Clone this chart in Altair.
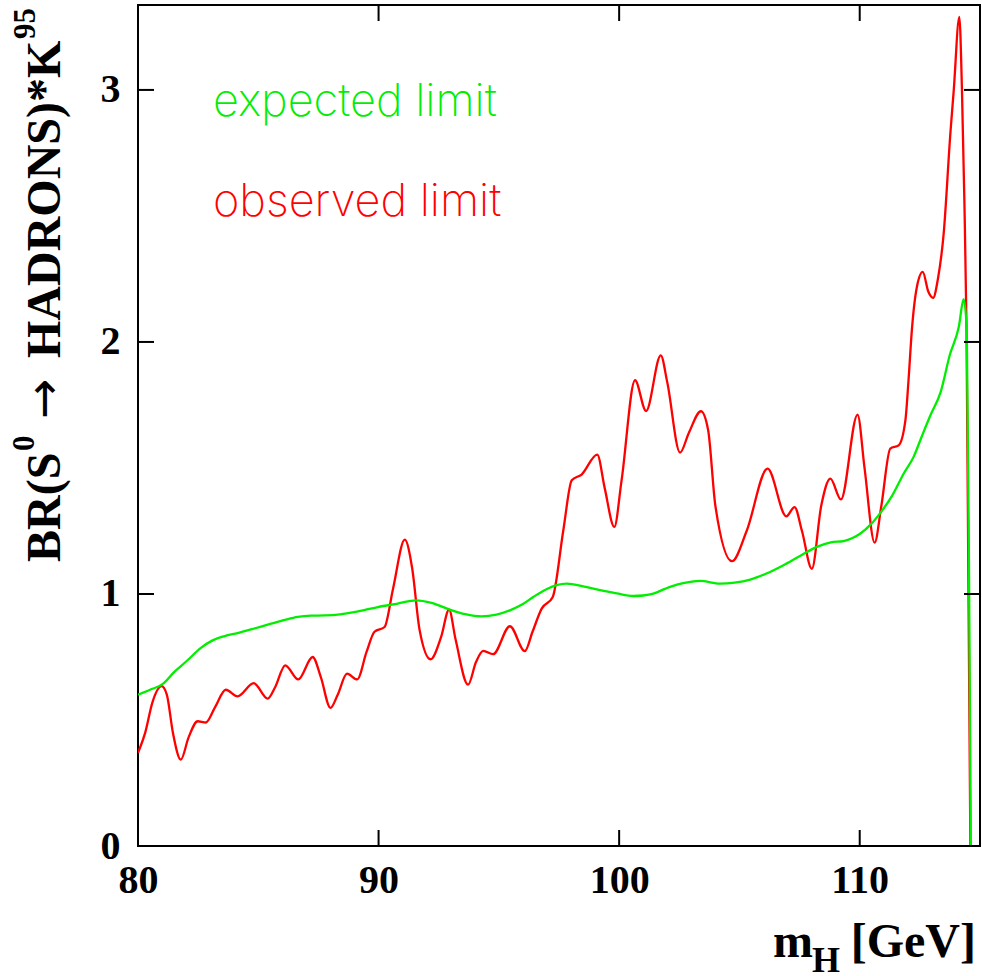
import altair as alt
import pandas as pd

# ---- data ----
obs_mass = [80.0, 80.3, 80.6, 80.98, 81.2, 81.45, 81.78, 82.1, 82.48, 82.82, 83.2, 83.65,
            84.14, 84.81, 85.39, 85.7, 86.12, 86.66, 87.26, 87.6, 88.0, 88.3, 88.69, 89.11,
            89.5, 89.83, 90.25, 90.6, 91.09, 91.4, 91.7, 92.16, 92.6, 92.93, 93.2, 93.72,
            94.05, 94.35, 94.76, 95.46, 96.08, 96.4, 96.78, 97.24, 97.68, 98.03, 98.44,
            99.09, 99.4, 99.8, 100.1, 100.66, 101.12, 101.73, 102.0, 102.53, 102.9, 103.4,
            103.7, 104.0, 104.69, 105.3, 106.17, 106.95, 107.29, 107.6, 108.01, 108.4,
            108.78, 109.22, 109.91, 110.2, 110.62, 110.9, 111.27, 111.62, 111.9, 112.03,
            112.17, 112.38, 112.62, 112.85, 113.05, 113.25, 113.49, 113.77, 113.91, 114.14,
            114.25, 114.35, 114.44, 114.6]
obs_limit = [0.37, 0.45, 0.57, 0.634, 0.6, 0.45, 0.343, 0.43, 0.495, 0.49, 0.55, 0.62,
             0.594, 0.646, 0.585, 0.63, 0.717, 0.661, 0.75, 0.67, 0.548, 0.6, 0.684, 0.661,
             0.77, 0.85, 0.869, 1.02, 1.216, 1.1, 0.86, 0.741, 0.83, 0.938, 0.82, 0.64,
             0.73, 0.774, 0.761, 0.872, 0.773, 0.85, 0.942, 0.988, 1.253, 1.451, 1.474,
             1.553, 1.42, 1.266, 1.45, 1.848, 1.726, 1.947, 1.84, 1.561, 1.64, 1.725,
             1.65, 1.35, 1.13, 1.25, 1.497, 1.308, 1.345, 1.25, 1.10, 1.35,
             1.458, 1.375, 1.712, 1.5, 1.204, 1.35, 1.577, 1.59, 1.69, 1.85,
             2.05, 2.22, 2.278, 2.2, 2.175, 2.25, 2.43, 2.83, 3.0, 3.29,
             3.0, 2.56, 2.05, 0.0]

exp_mass = [80.0, 80.5, 81.02, 81.5, 82.06, 82.6, 83.1, 83.6, 84.14, 84.8, 85.53, 86.1,
            86.64, 87.2, 87.75, 88.3, 88.86, 89.4, 89.97, 90.8, 91.56, 92.2, 92.96, 93.6,
            94.28, 94.9, 95.46, 96.0, 96.43, 97.0, 97.4, 97.82, 98.5, 99.2, 99.9, 100.59,
            101.0, 101.42, 101.9, 102.4, 102.95, 103.37, 104.2, 104.8, 105.45, 106.1,
            106.83, 107.5, 108.22, 108.8, 109.33, 109.7, 110.03, 110.45, 110.86, 111.35,
            111.83, 112.24, 112.6, 112.94, 113.36, 113.75, 114.12, 114.32, 114.45, 114.55,
            114.62]
exp_limit = [0.6, 0.62, 0.642, 0.69, 0.737, 0.785, 0.816, 0.833, 0.845, 0.862, 0.882, 0.897,
             0.909, 0.914, 0.915, 0.918, 0.926, 0.936, 0.948, 0.962, 0.975, 0.965, 0.938, 0.92,
             0.911, 0.918, 0.935, 0.96, 0.988, 1.02, 1.035, 1.041, 1.03, 1.015, 1.002, 0.992,
             0.994, 1.001, 1.02, 1.037, 1.048, 1.052, 1.041, 1.045, 1.057, 1.08,
             1.114, 1.15, 1.187, 1.205, 1.21, 1.222, 1.24, 1.275, 1.322, 1.39,
             1.478, 1.544, 1.63, 1.709, 1.8, 1.95, 2.06, 2.17, 2.05, 1.0,
             0.0]

x_ticks = [80, 90, 100, 110]
y_ticks = [0, 1, 2, 3]
series_names = ["observed limit", "expected limit"]
series_colors = ["#ff0000", "#00ee00"]
legend_labels = ["expected limit", "observed limit"]
legend_colors = ["#00ee00", "#ff0000"]

# ---- layout ----
W, H = 842, 841
X_DOM = [80, 115]
Y_DOM = [0, 3.337]
TICK = 16
SERIF = "Liberation Serif, DejaVu Serif"

df = pd.concat([
    pd.DataFrame({"m": obs_mass, "v": obs_limit, "s": series_names[0], "o": 0}),
    pd.DataFrame({"m": exp_mass, "v": exp_limit, "s": series_names[1], "o": 1}),
], ignore_index=True)

xs = alt.Scale(domain=X_DOM, nice=False, zero=False)
ys = alt.Scale(domain=Y_DOM, nice=False, zero=False)
x_axis = alt.Axis(values=x_ticks, title=None, labelFlush=False, labelPadding=46,
                  labelBaseline="alphabetic", labelOverlap=False)
y_axis = alt.Axis(values=y_ticks, title=None, labelFlush=False, labelPadding=18,
                  labelOverlap=False)

lines = alt.Chart(df).mark_line(strokeWidth=2.3, interpolate="monotone", clip=True).encode(
    x=alt.X("m:Q", scale=xs, axis=x_axis),
    y=alt.Y("v:Q", scale=ys, axis=y_axis),
    color=alt.Color("s:N", scale=alt.Scale(domain=series_names, range=series_colors), legend=None),
    detail="s:N",
    order="o:Q",
)

xt = pd.DataFrame({"t": x_ticks})
yt = pd.DataFrame({"t": y_ticks})

tick_bottom = alt.Chart(xt).mark_rule(color="black", strokeWidth=2).encode(
    x=alt.X("t:Q", scale=xs, axis=x_axis), y=alt.value(H), y2=alt.value(H - TICK))
tick_top = alt.Chart(xt).mark_rule(color="black", strokeWidth=2).encode(
    x=alt.X("t:Q", scale=xs, axis=x_axis), y=alt.value(0), y2=alt.value(TICK))
tick_left = alt.Chart(yt).mark_rule(color="black", strokeWidth=2).encode(
    y=alt.Y("t:Q", scale=ys, axis=y_axis), x=alt.value(0), x2=alt.value(TICK))
tick_right = alt.Chart(yt).mark_rule(color="black", strokeWidth=2).encode(
    y=alt.Y("t:Q", scale=ys, axis=y_axis), x=alt.value(W), x2=alt.value(W - TICK))

legend_df = pd.DataFrame({"label": legend_labels, "c": legend_colors, "yy": [111, 211]})
legend = alt.Chart(legend_df).mark_text(
    align="left", baseline="alphabetic", font="Inter, DejaVu Sans",
    fontWeight=200, fontSize=45
).encode(text="label:N", x=alt.value(75), y=alt.Y("yy:Q", scale=None),
         color=alt.Color("c:N", scale=None))

def label(txt, x, y, size, align="left", angle=0, font=SERIF, weight="bold"):
    return alt.Chart(pd.DataFrame({"t": [txt]})).mark_text(
        align=align, baseline="alphabetic", font=font, fontWeight=weight,
        fontSize=size, angle=angle, color="black"
    ).encode(text="t:N", x=alt.value(x), y=alt.value(y))

# y-axis title, built from pieces (rotated, reading bottom to top)
yt_a = label("BR(S", -78, 557, 48, angle=270)
yt_b = label("0", -104, 446, 31, angle=270)
yt_c = label("\u2192", -78, 414, 48, angle=270, font="DejaVu Sans", weight="normal")
yt_d = label("HADRONS)*K", -78, 353, 48, angle=270)
yt_e = label("95", -103, 34, 31, angle=270)

xt_m = label("m", 635, 952, 48)
xt_h = label("H", 674, 967, 36)
xt_gev = label("[GeV]", 838, 952, 48, align="right")

chart = alt.layer(
    lines, tick_bottom, tick_top, tick_left, tick_right, legend,
    yt_a, yt_b, yt_c, yt_d, yt_e, xt_m, xt_h, xt_gev
).properties(
    width=W, height=H,
    padding={"left": 138, "top": 5, "right": 2, "bottom": 130},
    autosize=alt.AutoSizeParams(type="none"),
).configure_view(
    stroke="black", strokeWidth=2
).configure_axis(
    domain=False, ticks=False, grid=False,
    labelFont=SERIF, labelFontWeight="bold", labelFontSize=40, labelColor="black",
)

chart.save("out.html", embed_options={"renderer": "svg", "actions": False})
